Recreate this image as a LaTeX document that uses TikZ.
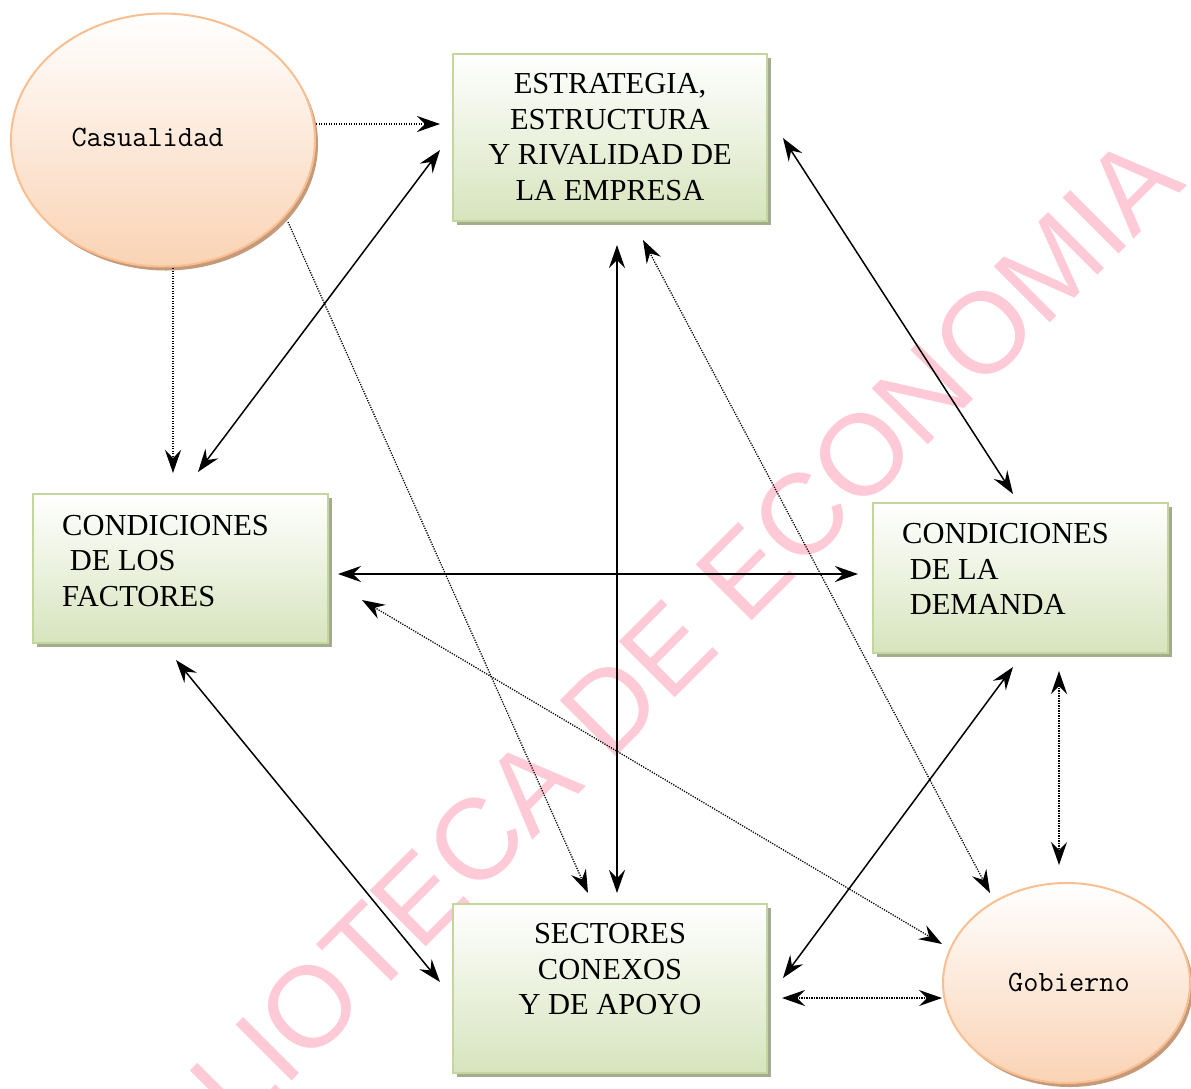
\documentclass[tikz,border=0pt]{standalone}
\usepackage{fontspec}
\setmainfont{Liberation Serif}
\newfontfamily\wmfont{Liberation Sans}
\usetikzlibrary{arrows.meta,shapes.geometric,shadows}
\definecolor{boxg}{HTML}{D7E4BD}
\definecolor{boxb}{HTML}{C3D69B}
\definecolor{boxs}{HTML}{A4AC90}
\definecolor{elf}{HTML}{FAD3B4}
\definecolor{elb}{HTML}{F9BF91}
\definecolor{els}{HTML}{C49A7A}
\definecolor{wmc}{RGB}{255,202,216}
\begin{document}
\begin{tikzpicture}[x=1pt,y=-1pt,
  fbox/.style={rectangle, draw=boxb, line width=2pt, top color=white, bottom color=boxg, inner sep=0pt,
    drop shadow={shadow xshift=4pt, shadow yshift=-4pt, fill=boxs, opacity=1}},
  fell/.style={ellipse, draw=elb, line width=2pt, top color=white, bottom color=elf, inner sep=0pt,
    drop shadow={shadow xshift=3pt, shadow yshift=-4pt, fill=els, opacity=1}},
  btext/.style={font=\fontsize{30.5}{35.5}\selectfont, inner sep=0pt},
  etext/.style={font=\ttfamily\fontsize{29.5}{32}\selectfont, inner sep=0pt},
  tip/.tip={Stealth[length=23pt,width=16pt,inset=8pt]},
  sol/.style={line width=1.5pt, tip-tip},
  dot/.style={line width=1.3pt, dash pattern=on 1.2pt off 1.3pt, tip-tip},
  dotone/.style={line width=1.3pt, dash pattern=on 1.2pt off 1.3pt, -tip},
  wmark/.style={font=\wmfont\fontsize{115}{115}\selectfont, text=wmc, inner sep=0pt}
]
\useasboundingbox (0,0) rectangle (1191,1088);
\begin{scope}
  \clip (0,0) rectangle (1191,1088);
  \node[wmark, rotate=45] (wm) at (620,697) {BIBLIOTECA DE ECONOMIA};
\end{scope}

% shapes
\node[fell, minimum width=304pt, minimum height=253pt] (cas) at (163,140) {};
\node[etext] (casT) at (147.5,137.5) {Casualidad};
\node[fell, minimum width=247pt, minimum height=200pt] (gob) at (1066.5,983) {};
\node[etext] (gobT) at (1069,982) {Gobierno};

\node[fbox, minimum width=314pt, minimum height=167pt] (estr) at (610,137) {};
\node[btext, align=center] (estrT) at (610,137) {ESTRATEGIA,\\ESTRUCTURA\\Y RIVALIDAD DE\\LA EMPRESA};

\node[fbox, minimum width=295pt, minimum height=149pt] (fact) at (180.5,568.5) {};
\node[btext, align=left, anchor=west] (factT) at (62,561) {CONDICIONES\\\hspace*{0.25em}DE LOS\\FACTORES};

\node[fbox, minimum width=295pt, minimum height=150pt] (dem) at (1020.5,578) {};
\node[btext, align=left, anchor=west] (demT) at (902,569) {CONDICIONES\\\hspace*{0.25em}DE LA\\\hspace*{0.25em}DEMANDA};

\node[fbox, minimum width=314pt, minimum height=169pt] (sect) at (610,988.5) {};
\node[btext, align=center] (sectT) at (610,969.5) {SECTORES\\CONEXOS\\Y DE APOYO};

% connector end points
\coordinate (c1s) at (316,124);  \coordinate (c1e) at (440,124);
\coordinate (c2s) at (173,268);  \coordinate (c2e) at (173,473);
\coordinate (c3s) at (288,222);  \coordinate (c3e) at (588,893);
\coordinate (e1) at (440,150);   \coordinate (f1) at (198,472);
\coordinate (e2) at (783,138);   \coordinate (d1) at (1013,494);
\coordinate (e3) at (617,245);   \coordinate (s1) at (617,893);
\coordinate (f2) at (338,574);   \coordinate (d2) at (858,574);
\coordinate (f3) at (176,660);   \coordinate (s2) at (440,982);
\coordinate (d3) at (1013,667);  \coordinate (s3) at (783,978);
\coordinate (d4) at (1059,671);  \coordinate (g1) at (1059,865);
\coordinate (s4) at (782,998);   \coordinate (g2) at (942,998);
\coordinate (e4) at (643,240);   \coordinate (g3) at (990,893);
\coordinate (f4) at (362,600);   \coordinate (g4) at (942,944);

% connectors
\draw[dotone] (c1s) -- (c1e);
\draw[dotone] (c2s) -- (c2e);
\draw[dotone] (c3s) -- (c3e);
\draw[sol] (e1) -- (f1);
\draw[sol] (e2) -- (d1);
\draw[sol] (e3) -- (s1);
\draw[sol] (f2) -- (d2);
\draw[sol] (f3) -- (s2);
\draw[sol] (d3) -- (s3);
\draw[dot] (d4) -- (g1);
\draw[dot] (s4) -- (g2);
\draw[dot] (e4) -- (g3);
\draw[dot] (f4) -- (g4);
\end{tikzpicture}
\end{document}
